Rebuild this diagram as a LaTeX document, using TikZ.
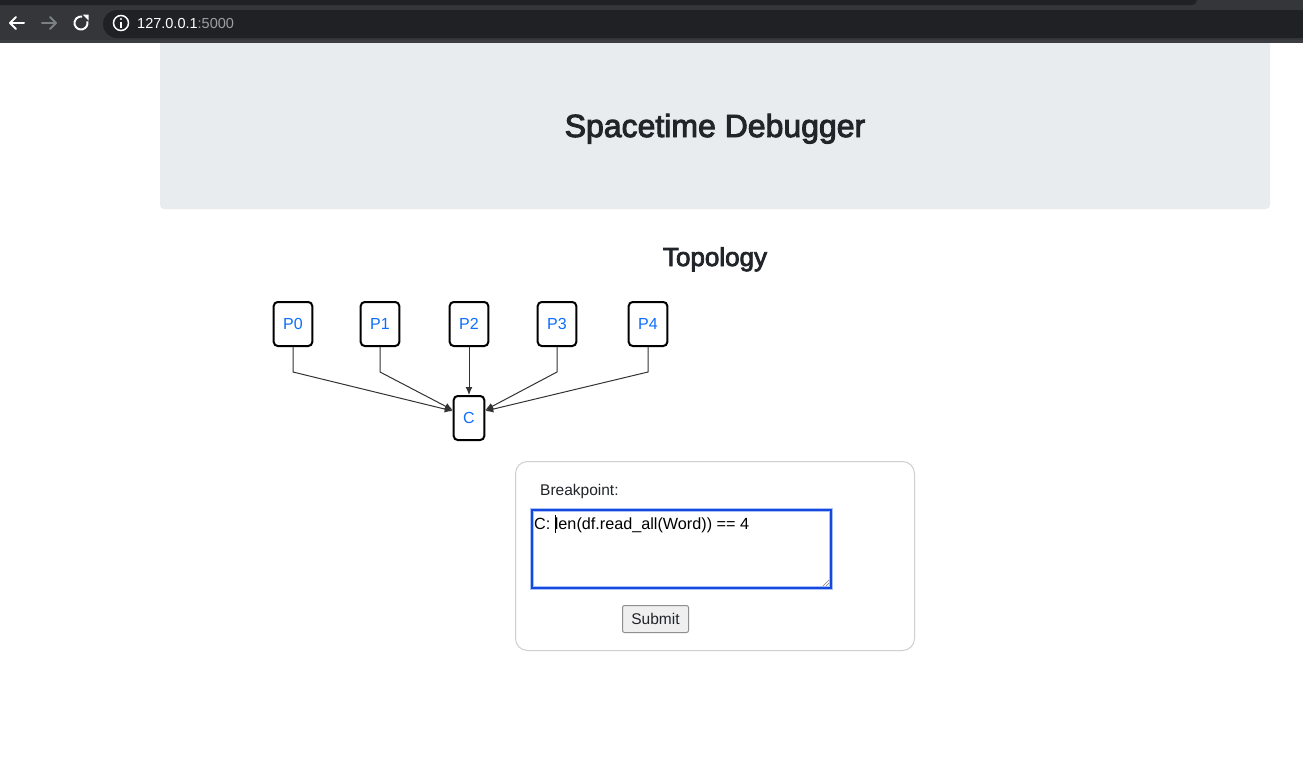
\documentclass[tikz,border=0pt]{standalone}
\usepackage{fontspec}
\setmainfont{Liberation Sans}
\newfontfamily\headfont[FakeBold=3]{Liberation Sans}
\usetikzlibrary{arrows.meta}
\definecolor{barbg}{HTML}{35363A}
\definecolor{bardark}{HTML}{202124}
\definecolor{barline}{HTML}{3C3D40}
\definecolor{urlgrey}{HTML}{9AA0A6}
\definecolor{jumbo}{HTML}{E9ECEF}
\definecolor{heading}{HTML}{212529}
\definecolor{linkblue}{HTML}{0D6EFD}
\definecolor{cardline}{HTML}{CFCFCF}
\definecolor{focusblue}{HTML}{1448E0}
\definecolor{focusglow}{HTML}{A9C1F5}
\definecolor{btnfill}{HTML}{EFEFEF}
\definecolor{btnline}{HTML}{8F8F8F}

\begin{document}
\begin{tikzpicture}[x=1pt, y=-1pt,
		procbox/.style={draw=black, line width=2pt, rounded corners=4pt, minimum height=44pt,
			inner xsep=9.5pt, text=linkblue, font=\fontsize{16}{19}\selectfont},
		conn/.style={draw=black!80, line width=1pt, -{Latex[length=8pt,width=7pt]}},
		icon/.style={line width=2pt, line cap=round, line join=round}]
			%%%%% START %%%%%
			
			\useasboundingbox[fill=white] (0, 0) rectangle (1303, 771);
			
			% page header
			\fill[jumbo, rounded corners=4pt] (160, 30) rectangle (1270, 209);
			\node[anchor=base, text=heading, font=\headfont\fontsize{32}{38}\selectfont] (title) at (715, 137) {Spacetime Debugger};
			
			% browser bar
			\fill[barbg] (0, 0) rectangle (1303, 43);
			\fill[bardark, rounded corners=5pt] (-10, -10) rectangle (1197, 5);
			\fill[barline] (0, 40) rectangle (1303, 43);
			\fill[bardark, rounded corners=14pt] (103, 10) rectangle (1330, 38);
			
			\draw[icon, color=white] (24, 23) -- (10, 23);
			\draw[icon, color=white] (16, 17) -- (10, 23) -- (16, 29);
			\draw[icon, color=urlgrey!80!black] (42, 23) -- (56, 23);
			\draw[icon, color=urlgrey!80!black] (50, 17) -- (56, 23) -- (50, 29);
			\draw[icon, color=white, line cap=butt] (81, 23) ++(-15:6.5) arc (-15:280:6.5);
			\fill[white] (82.5, 14.5) -- (88.5, 14.5) -- (88.5, 20.5) -- cycle;
			\draw[line width=1.5pt, color=white] (121, 23) circle (7.5);
			\fill[white] (121, 19) circle (1.2);
			\draw[line width=1.8pt, color=white] (121, 22) -- (121, 28);
			\node[anchor=base west, text=white, inner sep=0pt, font=\fontsize{14.5}{17}\selectfont] (url) at (137, 28) {127.0.0.1\textcolor{urlgrey}{:5000}};
			
			% topology
			\node[anchor=base, text=heading, font=\headfont\fontsize{26}{31}\selectfont] (topo) at (715, 266) {Topology};
			
			\node[procbox] (P0) at (293, 324) {P0};
			\node[procbox] (P1) at (380, 324) {P1};
			\node[procbox] (P2) at (469, 324) {P2};
			\node[procbox] (P3) at (557, 324) {P3};
			\node[procbox] (P4) at (648, 324) {P4};
			\node[procbox] (C) at (469, 418) {C};
			
			\draw[conn] (P0.south) -- ++(0, 25) -- ([yshift=7pt]C.west);
			\draw[conn] (P1.south) -- ++(0, 25) -- ([yshift=8pt]C.west);
			\draw[conn] (P2.south) -- (C.north);
			\draw[conn] (P3.south) -- ++(0, 25) -- ([yshift=8pt]C.east);
			\draw[conn] (P4.south) -- ++(0, 25) -- ([yshift=7pt]C.east);
			
			% breakpoint form
			\draw[cardline, line width=1pt, rounded corners=12pt] (515.5, 461.5) rectangle (914.5, 650.5);
			\node[anchor=base west, inner sep=0pt, text=heading, font=\fontsize{15.5}{18}\selectfont] (label) at (540, 495) {Breakpoint:};
			
			\draw[focusglow, line width=4pt] (532, 510) rectangle (831, 588);
			\draw[focusblue, line width=2pt] (532, 510) rectangle (831, 588);
			\node[anchor=base west, inner sep=0pt, text=black, font=\fontsize{16.2}{19}\selectfont] (expr) at (534, 529) {C: len(df.read\_all(Word)) == 4};
			\draw[black, line width=1pt] (555.5, 515) -- (555.5, 533);
			\draw[black!50, line width=0.6pt] (823, 586) -- (829, 580);
			\draw[black!50, line width=0.6pt] (826, 586) -- (829, 583);
			
			\draw[btnline, fill=btnfill, line width=1pt, rounded corners=2pt] (622.5, 605.5) rectangle (688.5, 632.5);
			\node[text=heading, font=\fontsize{15.5}{18}\selectfont] (submit) at (655.5, 619) {Submit};
			
			%%%%% END %%%%%
		\end{tikzpicture}
\end{document}
